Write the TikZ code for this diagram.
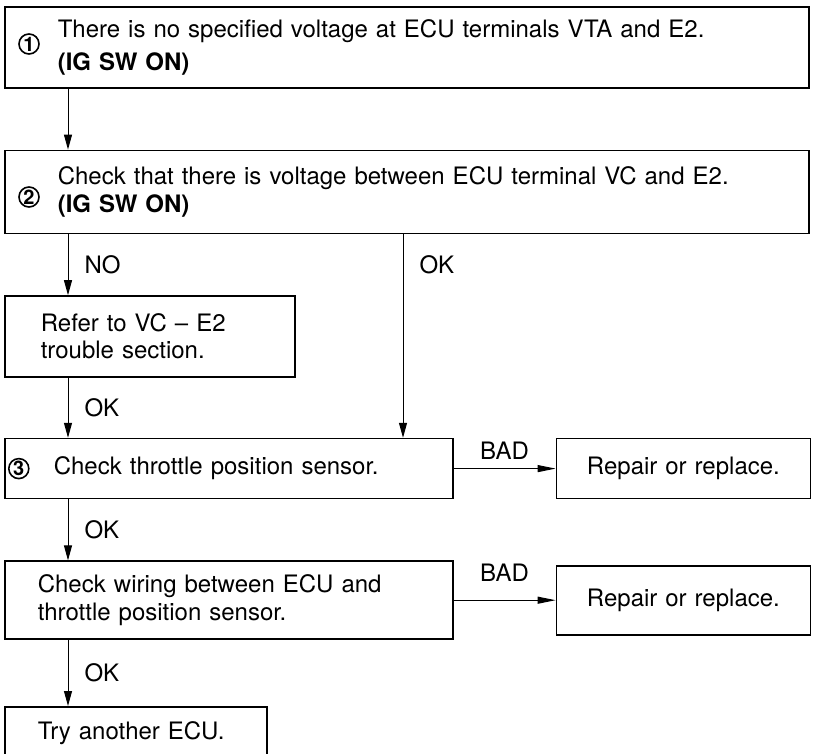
\documentclass[tikz,border=0pt]{standalone}
\usepackage{fontspec}
\setmainfont{TeX Gyre Heros}
\usetikzlibrary{arrows.meta,positioning}

\begin{document}
\begin{tikzpicture}[
    x=0.5pt, y=-0.5pt,
    box/.style={draw, line width=0.8pt, align=left, inner ysep=0pt, font=\fontsize{12}{14}\selectfont},
    fix/.style={box, align=center, inner xsep=8.5pt, text width=110pt},
    num/.style={draw, circle, line width=0.8pt, inner sep=0pt, minimum size=10pt, font=\fontsize{10}{10}\selectfont\bfseries},
    lbl/.style={inner sep=2pt, font=\fontsize{12}{14}\selectfont},
    arr/.style={-{Triangle[length=7.5pt, width=4pt]}, line width=0.5pt},
    badarr/.style={-{Triangle[length=9pt, width=3.5pt]}, line width=0.5pt}
  ]
    \useasboundingbox (0,0) rectangle (817,753);

    % main column
    \node[box, anchor=north west, inner xsep=26.5pt, text width=349pt, minimum height=40.5pt, font=\fontsize{12}{16.5}\selectfont] (b1) at (4,6)
      {There is no specified voltage at ECU terminals VTA and E2.\\\textbf{(IG SW ON)}};
    \node[box, below=30.5pt of b1.south west, anchor=north west, inner xsep=26.5pt, text width=349pt, minimum height=41.5pt] (b2)
      {Check that there is voltage between ECU terminal VC and E2.\\\textbf{(IG SW ON)}};
    \node[box, below=30.5pt of b2.south west, anchor=north west, inner xsep=18pt, text width=109pt, minimum height=40.5pt, font=\fontsize{12}{13.5}\selectfont] (refer)
      {Refer to VC -- E2\\trouble section.};
    \node[box, below=30pt of refer.south west, anchor=north west, inner xsep=24.5pt, text width=175pt, minimum height=30pt] (b3)
      {Check throttle position sensor.};
    \node[box, below=30.5pt of b3.south west, anchor=north west, inner xsep=16.5pt, text width=191pt, minimum height=39pt] (b4)
      {Check wiring between ECU and\\throttle position sensor.};
    \node[box, below=33pt of b4.south west, anchor=north west, inner xsep=16.5pt, text width=98pt, minimum height=26.5pt] (try)
      {Try another ECU.};

    % repair boxes
    \node[fix, right=51pt of b3, minimum height=30pt] (rep1) {Repair or replace.};
    \node[fix, right=51pt of b4, minimum height=34.5pt] (rep2) {Repair or replace.};

    % step numbers
    \node[num] (n1) at (29,44) {1};
    \node[num] (n2) at (29,197) {2};
    \node[num, right=2pt of b3.west] (n3) {3};

    \coordinate (col) at (68,0);
    \coordinate (okx) at (403,0);

    \draw[arr] (b1.south -| col) -- (b2.north -| col);
    \draw[arr] (b2.south -| col) -- node[lbl, right=6pt] (lno) {NO} (refer.north -| col);
    \draw[arr] (b2.south -| okx) -- node[lbl, right=6pt, pos=.15] (lok1) {OK} (b3.north -| okx);
    \draw[arr] (refer.south -| col) -- node[lbl, right=6pt] (lok2) {OK} (b3.north -| col);
    \draw[arr] (b3.south -| col) -- node[lbl, right=6pt] (lok3) {OK} (b4.north -| col);
    \draw[arr] (b4.south -| col) -- node[lbl, right=6pt] (lok4) {OK} (try.north -| col);
    \draw[badarr] (b3) -- node[lbl, above=2.5pt] (lbad1) {BAD} (rep1);
    \draw[badarr] (b4) -- node[lbl, above=7pt] (lbad2) {BAD} (rep2);
  \end{tikzpicture}
\end{document}
